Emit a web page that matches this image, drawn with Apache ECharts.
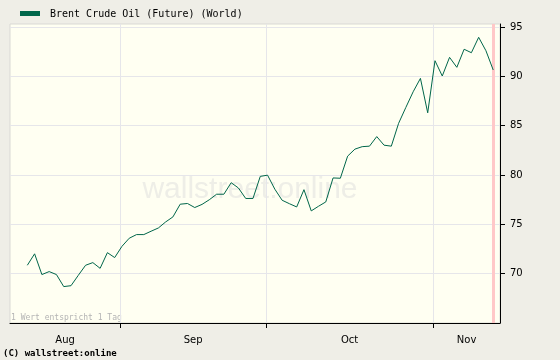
<!DOCTYPE html>
<html>
<head>
<meta charset="utf-8">
<script src="https://cdn.jsdelivr.net/npm/echarts@6/dist/echarts.min.js"></script>
<style>
html,body{margin:0;padding:0;background:#efeee7;}
#chart{width:560px;height:360px;}
</style>
</head>
<body>
<div id="chart"></div>
<script>
// Brent Crude Oil daily values (trading days, mid-Aug to mid-Nov)
var seriesName = 'Brent Crude Oil (Future) (World)';
var values = [
  70.85, 72.01, 69.91, 70.21, 69.91, 68.69, 68.78, 69.83, 70.85, 71.12,
  70.54, 72.13, 71.63, 72.77, 73.59, 73.96, 73.96, 74.30, 74.63, 75.24,
  75.75, 77.04, 77.11, 76.70, 77.02, 77.49, 78.05, 78.05, 79.22, 78.68,
  77.62, 77.62, 79.86, 79.98, 78.56, 77.44, 77.09, 76.76, 78.51, 76.36,
  76.83, 77.27, 79.70, 79.67, 81.91, 82.62, 82.87, 82.92, 83.89, 83.02,
  82.92, 85.23, 86.85, 88.43, 89.79, 86.30, 91.58, 90.03, 91.92, 90.91,
  92.74, 92.39, 93.95, 92.59, 90.64
];
var monthLabels = ['Aug', 'Sep', 'Oct', 'Nov'];
// month boundaries expressed in data-point index units
var monthBoundaries = [12.75, 32.8, 55.75];
var yTicks = [70, 75, 80, 85, 90, 95];
var xMin = -2.38, xMax = 64.93;

var data = values.map(function (v, i) { return [i, v]; });
var edges = [xMin].concat(monthBoundaries).concat([xMax]);
var monthMids = [];
for (var k = 0; k < monthLabels.length; k++) monthMids.push((edges[k] + edges[k + 1]) / 2);

var chart = echarts.init(document.getElementById('chart'), null, {renderer: 'canvas'});
chart.setOption({
  animation: false,
  backgroundColor: '#efeee7',
  grid: {
    left: 10, right: 60, top: 24, bottom: 37,
    show: true, backgroundColor: '#fffff2', borderColor: '#d9d9d4', borderWidth: 1
  },
  graphic: [
    {type: 'rect', shape: {x: 20, y: 11, width: 20, height: 5}, style: {fill: '#00664a'}},
    {type: 'text', x: 50, y: 14, style: {text: seriesName, font: '10px "DejaVu Sans Mono"', fill: '#000', verticalAlign: 'middle'}},
    {type: 'text', x: 250, y: 190, z: 0, style: {text: 'wallstreet:online', font: '30px "Liberation Sans"', fill: '#eeeee7', align: 'center', verticalAlign: 'middle'}},
    {type: 'text', x: 11, y: 318, style: {text: '1 Wert entspricht 1 Tag', font: '8px "DejaVu Sans Mono"', fill: '#b4b4b4', verticalAlign: 'middle'}},
    {type: 'text', x: 3, y: 354, style: {text: '(C) wallstreet:online', font: 'bold 9px "DejaVu Sans Mono"', fill: '#000', verticalAlign: 'middle'}}
  ],
  xAxis: {
    type: 'value', min: xMin, max: xMax,
    axisLine: {show: true, onZero: false, lineStyle: {color: '#000', width: 1}},
    axisTick: {show: true, length: 5, customValues: monthBoundaries, lineStyle: {color: '#000'}},
    axisLabel: {
      show: true, margin: 12, customValues: monthMids, color: '#000',
      fontFamily: 'DejaVu Sans', fontSize: 10,
      formatter: function (v) {
        for (var j = 0; j < monthMids.length; j++) if (Math.abs(monthMids[j] - v) < 1e-6) return monthLabels[j];
        return '';
      }
    },
    splitLine: {show: false}
  },
  yAxis: {
    type: 'value', position: 'right', min: 65, max: 95.3, interval: 5,
    axisLine: {show: true, onZero: false, lineStyle: {color: '#000', width: 1}},
    axisTick: {show: true, length: 5, customValues: yTicks, lineStyle: {color: '#000'}},
    axisLabel: {show: true, margin: 10, customValues: yTicks, color: '#000', fontFamily: 'DejaVu Sans', fontSize: 10},
    splitLine: {show: true, lineStyle: {color: '#e6e6ea', width: 1}}
  },
  series: [{
    name: seriesName,
    type: 'line',
    data: data,
    showSymbol: false,
    symbol: 'none',
    lineStyle: {color: '#00664a', width: 1},
    z: 5,
    markLine: {
      silent: true, symbol: 'none', label: {show: false},
      data: monthBoundaries.map(function (b) { return {xAxis: b, lineStyle: {color: '#e6e6ea', width: 1, type: 'solid'}}; })
        .concat([{xAxis: values.length - 1, lineStyle: {color: '#ffc8c8', width: 3, type: 'solid'}}])
    }
  }]
});
</script>
</body>
</html>
